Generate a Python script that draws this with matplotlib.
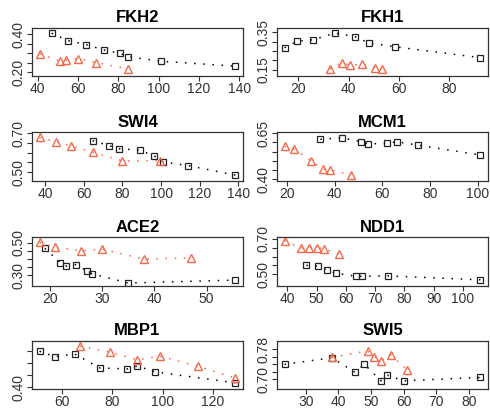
import matplotlib
matplotlib.use("Agg")
import matplotlib.pyplot as plt

plt.rcParams['font.family'] = ['Liberation Sans', 'DejaVu Sans']

# values (black = squares, red = triangles)
titles = ["FKH2", "FKH1", "SWI4", "MCM1", "ACE2", "NDD1", "MBP1", "SWI5"]

fkh2_bx = [47, 55, 64, 73, 81, 85, 101, 138]
fkh2_by = [0.405, 0.366, 0.345, 0.316, 0.298, 0.281, 0.257, 0.231]
fkh2_rx = [41, 51, 54, 60, 69, 85]
fkh2_ry = [0.297, 0.257, 0.262, 0.271, 0.250, 0.216]

fkh1_bx = [14.5, 19.5, 26, 34.5, 42.5, 48, 58.5, 92.5]
fkh1_by = [0.267, 0.301, 0.310, 0.345, 0.327, 0.293, 0.272, 0.214]
fkh1_rx = [32.5, 37.5, 40.5, 45.5, 50.5, 53.5]
fkh1_ry = [0.153, 0.188, 0.174, 0.178, 0.159, 0.152]

swi4_bx = [64.5, 73, 78, 89, 96.5, 101, 114, 138.5]
swi4_by = [0.662, 0.637, 0.621, 0.613, 0.584, 0.553, 0.534, 0.485]
swi4_rx = [37, 45.5, 53.5, 64.5, 80, 99.5]
swi4_ry = [0.679, 0.656, 0.635, 0.603, 0.558, 0.558]

mcm1_bx = [34, 43, 51, 54, 62, 66, 75, 101]
mcm1_by = [0.617, 0.625, 0.604, 0.592, 0.595, 0.604, 0.585, 0.532]
mcm1_rx = [19, 23, 30, 35, 38, 47]
mcm1_ry = [0.578, 0.564, 0.500, 0.458, 0.449, 0.426]

ace2_bx = [19, 22, 23, 25, 27, 28, 35, 55.5]
ace2_by = [0.465, 0.378, 0.356, 0.366, 0.329, 0.310, 0.253, 0.271]
ace2_rx = [18, 21, 26, 30, 38, 47]
ace2_ry = [0.502, 0.471, 0.450, 0.461, 0.399, 0.407]

ndd1_bx = [46.5, 50.5, 53.5, 56.5, 63.5, 65.5, 74.5, 106]
ndd1_by = [0.550, 0.544, 0.524, 0.506, 0.488, 0.488, 0.490, 0.468]
ndd1_rx = [39, 44.5, 47.5, 50, 52.5, 57.5]
ndd1_ry = [0.690, 0.649, 0.649, 0.651, 0.644, 0.613]

mbp1_bx = [51, 57, 65, 75, 86, 90, 97, 129]
mbp1_by = [0.547, 0.525, 0.536, 0.479, 0.475, 0.487, 0.463, 0.418]
mbp1_rx = [67, 79, 90, 99, 114, 129]
mbp1_ry = [0.568, 0.544, 0.512, 0.527, 0.486, 0.438]

swi5_bx = [23.5, 38, 45, 48, 53, 55, 60, 83.5]
swi5_by = [0.740, 0.758, 0.719, 0.740, 0.696, 0.711, 0.696, 0.705]
swi5_rx = [38, 49, 51, 53, 56, 61]
swi5_ry = [0.759, 0.776, 0.761, 0.749, 0.766, 0.725]

# axis settings per panel
xticks = [[40, 60, 80, 100, 120, 140], [20, 40, 60, 80],
          [40, 60, 80, 100, 120, 140], [20, 40, 60, 80, 100],
          [20, 30, 40, 50], [40, 50, 60, 70, 80, 90, 100],
          [60, 80, 100, 120], [30, 40, 50, 60, 70, 80]]
yticks = [[0.20, 0.25, 0.30, 0.35, 0.40], [0.15, 0.20, 0.25, 0.30, 0.35],
          [0.50, 0.55, 0.60, 0.65, 0.70], [0.40, 0.45, 0.50, 0.55, 0.60, 0.65],
          [0.30, 0.35, 0.40, 0.45, 0.50], [0.50, 0.55, 0.60, 0.65, 0.70],
          [0.40, 0.45, 0.50, 0.55], [0.70, 0.72, 0.74, 0.76, 0.78]]
ylabels = [{0.20: "0.20", 0.40: "0.40"}, {0.15: "0.15", 0.35: "0.35"},
           {0.50: "0.50", 0.70: "0.70"}, {0.40: "0.40", 0.65: "0.65"},
           {0.30: "0.30", 0.50: "0.50"}, {0.50: "0.50", 0.70: "0.70"},
           {0.40: "0.40"}, {0.70: "0.70", 0.78: "0.78"}]
ylims = [(0.178, 0.434), (0.115, 0.374), (0.456, 0.705), (0.392, 0.655),
         (0.236, 0.533), (0.434, 0.709), (0.393, 0.591), (0.674, 0.804)]

series = [(fkh2_bx, fkh2_by, fkh2_rx, fkh2_ry), (fkh1_bx, fkh1_by, fkh1_rx, fkh1_ry),
          (swi4_bx, swi4_by, swi4_rx, swi4_ry), (mcm1_bx, mcm1_by, mcm1_rx, mcm1_ry),
          (ace2_bx, ace2_by, ace2_rx, ace2_ry), (ndd1_bx, ndd1_by, ndd1_rx, ndd1_ry),
          (mbp1_bx, mbp1_by, mbp1_rx, mbp1_ry), (swi5_bx, swi5_by, swi5_rx, swi5_ry)]

red = "#F4694A"
W, H = 490, 409
fig = plt.figure(figsize=(W / 100, H / 100), dpi=100)

lefts = [31.7, 276.7]
tops = [27.7, 132.3, 237.3, 340.5]
aw, ah = 211.5, 48.5

for i, (bx, by, rx, ry) in enumerate(series):
    row, col = divmod(i, 2)
    ax = fig.add_axes([lefts[col] / W, 1 - (tops[row] + ah) / H, aw / W, ah / H])
    ax.plot(bx, by, color="black", linestyle=(0, (1, 5)), linewidth=1.1,
            marker="s", markersize=4, markerfacecolor="none",
            markeredgecolor="#222222", markeredgewidth=0.9)
    ax.plot(rx, ry, color=red, linestyle=(0, (1, 5)), linewidth=1.1,
            marker="^", markersize=6, markerfacecolor="none",
            markeredgecolor=red, markeredgewidth=1.0)
    xs = bx + rx
    pad = 0.04 * (max(xs) - min(xs))
    ax.set_xlim(min(xs) - pad, max(xs) + pad)
    ax.set_ylim(*ylims[i])
    ax.set_xticks(xticks[i])
    ax.set_xticklabels([str(t) for t in xticks[i]], fontsize=10)
    ax.set_yticks(yticks[i])
    ax.set_yticklabels([ylabels[i].get(t, "") for t in yticks[i]], fontsize=10,
                       rotation=90, va="center")
    ax.tick_params(direction="out", length=3.5, width=0.8, pad=1, colors="#333333")
    for s in ax.spines.values():
        s.set_linewidth(0.9)
        s.set_color("#333333")
    ax.set_title(titles[i], fontsize=12, fontweight="bold", pad=4)

fig.savefig("out.png", dpi=100)
